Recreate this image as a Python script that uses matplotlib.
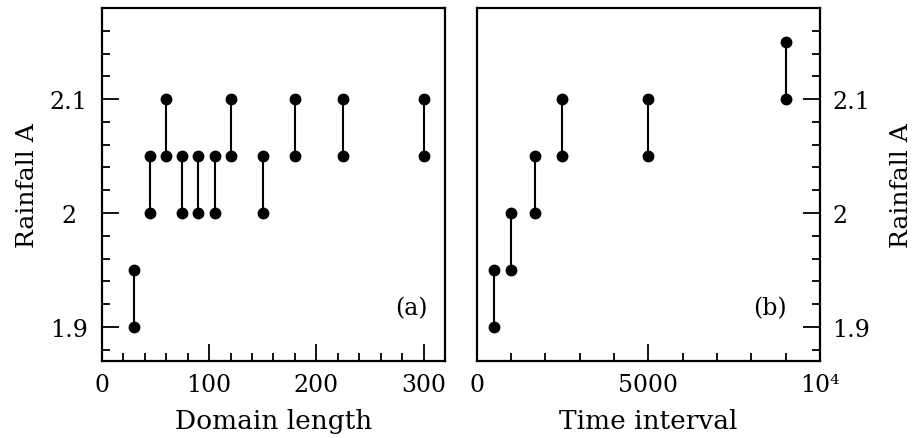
import matplotlib
matplotlib.use("Agg")
import matplotlib.pyplot as plt
from matplotlib.ticker import MultipleLocator, FixedLocator, FixedFormatter

# panel (a): domain length vs rainfall A (low / high estimate)
domain = [30, 45, 60, 75, 90, 105, 120, 150, 180, 225, 300]
dom_lo = [1.90, 2.00, 2.05, 2.00, 2.00, 2.00, 2.05, 2.00, 2.05, 2.05, 2.05]
dom_hi = [1.95, 2.05, 2.10, 2.05, 2.05, 2.05, 2.10, 2.05, 2.10, 2.10, 2.10]

# panel (b): time interval vs rainfall A
interval = [500, 1000, 1700, 2500, 5000, 9000]
int_lo = [1.90, 1.95, 2.00, 2.05, 2.05, 2.10]
int_hi = [1.95, 2.00, 2.05, 2.10, 2.10, 2.15]

plt.rcParams['font.family'] = 'DejaVu Serif'
plt.rcParams['font.size'] = 17

fig = plt.figure(figsize=(9.13, 4.39), dpi=100)
ax1 = fig.add_axes([0.1117, 0.1754, 0.3757, 0.8041])
ax2 = fig.add_axes([0.5221, 0.1754, 0.3760, 0.8041])


def draw(ax, x, lo, hi):
    ax.vlines(x, lo, hi, color='black', lw=1.5)
    ax.plot(x, lo, 'o', color='black', ms=7.5)
    ax.plot(x, hi, 'o', color='black', ms=7.5)
    ax.set_ylim(1.87, 2.18)
    ax.yaxis.set_major_locator(FixedLocator([1.9, 2.0, 2.1]))
    ax.yaxis.set_major_formatter(FixedFormatter(['1.9', '2', '2.1']))
    ax.yaxis.set_minor_locator(MultipleLocator(0.02))
    ax.tick_params(which='both', direction='in', top=False, pad=9)
    ax.tick_params(which='major', length=12, width=1.3)
    ax.tick_params(which='minor', length=6, width=1.3)
    for s in ax.spines.values():
        s.set_linewidth(1.6)


draw(ax1, domain, dom_lo, dom_hi)
ax1.set_xlim(0, 320)
ax1.xaxis.set_major_locator(MultipleLocator(100))
ax1.xaxis.set_minor_locator(MultipleLocator(20))
ax1.tick_params(which='both', left=True, right=False)
ax1.tick_params(axis='y', pad=24)
for lab in ax1.get_yticklabels():
    lab.set_horizontalalignment('center')
ax1.set_xlabel("Domain length", fontsize=19, labelpad=8)
ax1.set_ylabel("Rainfall A", fontsize=18, labelpad=8)
ax1.text(304, 1.917, "(a)", ha='right', va='center')

draw(ax2, interval, int_lo, int_hi)
ax2.set_xlim(0, 10000)
ax2.xaxis.set_major_locator(FixedLocator([0, 5000, 10000]))
ax2.xaxis.set_major_formatter(FixedFormatter(['0', '5000', '10\u2074']))
ax2.xaxis.set_minor_locator(MultipleLocator(1000))
ax2.tick_params(which='both', left=False, right=True, labelleft=False, labelright=True)
ax2.yaxis.set_label_position('right')
ax2.set_xlabel("Time interval", fontsize=19, labelpad=8)
ax2.set_ylabel("Rainfall A", fontsize=18, labelpad=14)
ax2.text(9040, 1.917, "(b)", ha='right', va='center')

fig.savefig("out.png", dpi=100)
